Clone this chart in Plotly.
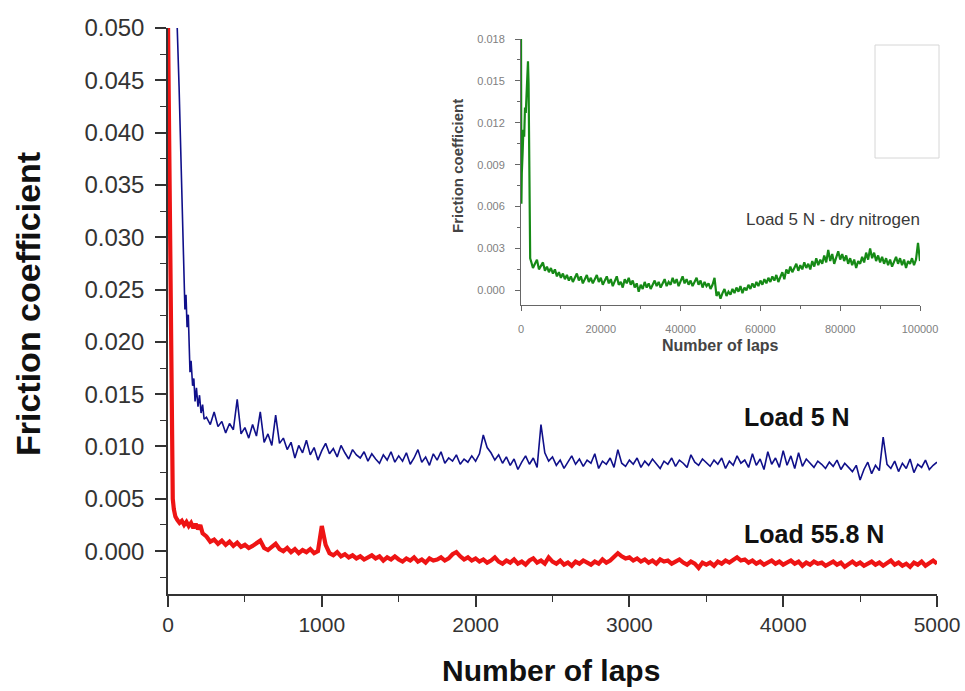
import plotly.graph_objects as go

W, H = 965, 691

# ---------------- Main chart data (Number of laps vs friction coefficient) ----------------
blue_early_laps = [50, 60, 72, 85, 98, 110, 117, 124, 132, 143, 150, 160, 168, 176, 185, 195, 205, 215, 225, 235]
blue_early_vals = [0.0515, 0.0500, 0.0444, 0.0366, 0.0281, 0.0231, 0.0245, 0.0214, 0.0226, 0.0171,
                   0.0182, 0.0158, 0.0165, 0.0143, 0.0156, 0.0138, 0.0149, 0.0132, 0.0140, 0.0126]

blue_vals = [
    0.0128, 0.0121, 0.0133, 0.0119, 0.0124, 0.0113, 0.0122, 0.0116, 0.0145, 0.0112,
    0.0118, 0.0108, 0.0121, 0.0110, 0.0133, 0.0104, 0.0112, 0.0101, 0.0130, 0.0103,
    0.0108, 0.0097, 0.0104, 0.0089, 0.0101, 0.0094, 0.0106, 0.0092, 0.0099, 0.0087,
    0.0096, 0.0103, 0.0093, 0.0098, 0.0090, 0.0101, 0.0094, 0.0088, 0.0097, 0.0092,
    0.0089, 0.0095, 0.0086, 0.0093, 0.0088, 0.0084, 0.0092, 0.0087, 0.0095, 0.0085,
    0.0091, 0.0086, 0.0094, 0.0083, 0.0089, 0.0097, 0.0085, 0.0090, 0.0082, 0.0093,
    0.0087, 0.0095, 0.0084, 0.0089, 0.0086, 0.0092, 0.0083, 0.0088, 0.0085, 0.0091,
    0.0086, 0.0093, 0.0111, 0.0099, 0.0094, 0.0087, 0.0092, 0.0084, 0.0090, 0.0082,
    0.0088, 0.0078, 0.0085, 0.0091, 0.0083, 0.0089, 0.0080, 0.0121, 0.0094, 0.0086,
    0.0090, 0.0082, 0.0087, 0.0079, 0.0085, 0.0091, 0.0083, 0.0088, 0.0081, 0.0087,
    0.0084, 0.0093, 0.0079, 0.0086, 0.0083, 0.0089, 0.0080, 0.0097, 0.0084, 0.0081,
    0.0087, 0.0083, 0.0089, 0.0080, 0.0086, 0.0082, 0.0088, 0.0084, 0.0079, 0.0086,
    0.0083, 0.0089, 0.0081, 0.0087, 0.0084, 0.0080, 0.0092, 0.0085, 0.0082, 0.0088,
    0.0084, 0.0081, 0.0087, 0.0083, 0.0089, 0.0079, 0.0086, 0.0082, 0.0091, 0.0084,
    0.0087, 0.0080, 0.0093, 0.0082, 0.0088, 0.0078, 0.0095, 0.0083, 0.0089, 0.0080,
    0.0096, 0.0082, 0.0091, 0.0079, 0.0094, 0.0081, 0.0088, 0.0084, 0.0080, 0.0086,
    0.0083, 0.0079, 0.0085, 0.0081, 0.0087, 0.0078, 0.0084, 0.0080, 0.0076, 0.0082,
    0.0068, 0.0078, 0.0085, 0.0074, 0.0082, 0.0077, 0.0109, 0.0083, 0.0079, 0.0086,
    0.0076, 0.0084, 0.0079, 0.0088, 0.0075, 0.0083, 0.0080, 0.0087, 0.0078, 0.0082,
    0.0085,
]

red_early_laps = [0, 5, 10, 13, 17, 20, 23, 26, 31, 38, 48, 60, 75, 90, 105, 120, 135, 150, 165, 180, 195, 210, 225]
red_early_vals = [0.0505, 0.0430, 0.0360, 0.0300, 0.0220, 0.0164, 0.0115, 0.0083, 0.0050, 0.0040, 0.0033,
                  0.0030, 0.0027, 0.0029, 0.0025, 0.0028, 0.0024, 0.0027, 0.0022, 0.0026, 0.0021, 0.0025, 0.0017]

red_vals = [
    0.0014, 0.0009, 0.0011, 0.0007, 0.0010, 0.0006, 0.0009, 0.0005, 0.0008, 0.0004,
    0.0006, 0.0003, 0.0005, 0.0008, 0.0010, 0.0003, 0.0001, 0.0004, 0.0007, 0.0002,
    0.0000, 0.0003, -0.0001, 0.0002, -0.0002, 0.0001, -0.0001, 0.0002, -0.0002, 0.0000,
    0.0024, 0.0006, -0.0002, -0.0004, -0.0001, -0.0005, -0.0003, -0.0006, -0.0004, -0.0007,
    -0.0005, -0.0008, -0.0006, -0.0004, -0.0007, -0.0005, -0.0009, -0.0006, -0.0008, -0.0005,
    -0.0008, -0.0010, -0.0007, -0.0009, -0.0006, -0.0010, -0.0008, -0.0011, -0.0007, -0.0009,
    -0.0008, -0.0006, -0.0009, -0.0007, -0.0003, -0.0001, -0.0005, -0.0008, -0.0006, -0.0009,
    -0.0007, -0.0010, -0.0008, -0.0011, -0.0009, -0.0006, -0.0010, -0.0012, -0.0009, -0.0011,
    -0.0008, -0.0012, -0.0010, -0.0013, -0.0009, -0.0007, -0.0011, -0.0009, -0.0012, -0.0006,
    -0.0010, -0.0012, -0.0009, -0.0013, -0.0011, -0.0014, -0.0010, -0.0012, -0.0009, -0.0011,
    -0.0013, -0.0010, -0.0012, -0.0008, -0.0011, -0.0009, -0.0006, -0.0002, -0.0005, -0.0007,
    -0.0006, -0.0009, -0.0007, -0.0010, -0.0008, -0.0011, -0.0009, -0.0012, -0.0008, -0.0010,
    -0.0009, -0.0012, -0.0010, -0.0008, -0.0011, -0.0013, -0.0010, -0.0012, -0.0016, -0.0011,
    -0.0013, -0.0011, -0.0014, -0.0010, -0.0012, -0.0009, -0.0011, -0.0008, -0.0006, -0.0009,
    -0.0008, -0.0011, -0.0009, -0.0012, -0.0010, -0.0013, -0.0011, -0.0009, -0.0012, -0.0010,
    -0.0013, -0.0011, -0.0009, -0.0012, -0.0010, -0.0014, -0.0011, -0.0013, -0.0010, -0.0012,
    -0.0011, -0.0014, -0.0012, -0.0010, -0.0013, -0.0011, -0.0015, -0.0012, -0.0010, -0.0013,
    -0.0011, -0.0014, -0.0012, -0.0010, -0.0013, -0.0011, -0.0014, -0.0012, -0.0009, -0.0013,
    -0.0011, -0.0014, -0.0012, -0.0015, -0.0011, -0.0013, -0.0010, -0.0014, -0.0012, -0.0009,
    -0.0012,
]

grid_laps = list(range(250, 5001, 25))

# ---------------- Inset data (dry nitrogen, 100000 laps) ----------------
green_early_laps = [0, 50, 100, 200, 400, 600, 800, 1000, 1200, 1400, 1500, 1600, 1750, 1900, 2000, 2100, 2200, 2300]
green_early_vals = [0.0185, 0.0120, 0.0062, 0.0084, 0.0098, 0.0115, 0.0110, 0.0131, 0.0127, 0.0146,
                    0.0141, 0.0152, 0.0164, 0.0148, 0.0120, 0.0056, 0.0030, 0.0023]

green_vals = [
    0.0021, 0.0016, 0.0019, 0.0022, 0.0015, 0.0018, 0.0020, 0.0014, 0.0017, 0.0013,
    0.0016, 0.0012, 0.0015, 0.0010, 0.0013, 0.0009, 0.0012, 0.0008, 0.0011, 0.0007,
    0.0010, 0.0006, 0.0009, 0.0012, 0.0007, 0.0010, 0.0005, 0.0008, 0.0011, 0.0006,
    0.0009, 0.0005, 0.0008, 0.0011, 0.0006, 0.0009, 0.0004, 0.0007, 0.0010, 0.0005,
    0.0008, 0.0003, 0.0007, 0.0010, 0.0004, 0.0006, 0.0002, 0.0008, 0.0005, 0.0009,
    0.0004, 0.0007, 0.0002, 0.0005, -0.0001, 0.0004, 0.0001, 0.0006, 0.0002, 0.0005,
    0.0001, 0.0004, 0.0007, 0.0003, 0.0006, 0.0002, 0.0005, 0.0008, 0.0003, 0.0006,
    0.0004, 0.0009, 0.0005, 0.0008, 0.0003, 0.0007, 0.0010, 0.0005, 0.0008, 0.0004,
    0.0007, 0.0003, 0.0006, 0.0009, 0.0004, 0.0007, 0.0002, 0.0006, 0.0003, 0.0005,
    0.0001, 0.0004, 0.0009, -0.0004, -0.0001, -0.0006, -0.0002, 0.0001, -0.0004, -0.0001,
    -0.0003, 0.0001, -0.0002, 0.0002, -0.0001, 0.0003, -0.0002, 0.0002, 0.0000, 0.0004,
    0.0001, 0.0005, 0.0002, 0.0006, 0.0003, 0.0007, 0.0004, 0.0008, 0.0005, 0.0009,
    0.0006, 0.0010, 0.0007, 0.0011, 0.0006, 0.0009, 0.0013, 0.0008, 0.0015, 0.0012,
    0.0017, 0.0013, 0.0016, 0.0019, 0.0014, 0.0018, 0.0015, 0.0020, 0.0016, 0.0019,
    0.0015, 0.0021, 0.0017, 0.0023, 0.0018, 0.0022, 0.0019, 0.0025, 0.0020, 0.0029,
    0.0021, 0.0026, 0.0019, 0.0024, 0.0028, 0.0022, 0.0026, 0.0021, 0.0025, 0.0019,
    0.0023, 0.0018, 0.0022, 0.0016, 0.0021, 0.0019, 0.0024, 0.0020, 0.0027, 0.0022,
    0.0030, 0.0023, 0.0027, 0.0021, 0.0025, 0.0020, 0.0024, 0.0019, 0.0023, 0.0018,
    0.0022, 0.0017, 0.0021, 0.0024, 0.0019, 0.0023, 0.0018, 0.0022, 0.0016, 0.0021,
    0.0019, 0.0023, 0.0018, 0.0022, 0.0034, 0.0021,
]
green_grid = list(range(2500, 100001, 500))

main_xticks = [0, 1000, 2000, 3000, 4000, 5000]
inset_xticks = [0, 20000, 40000, 60000, 80000, 100000]

# ---------------- Figure ----------------
fig = go.Figure()
fig.add_trace(go.Scatter(x=blue_early_laps + grid_laps, y=blue_early_vals + blue_vals,
                         mode="lines", line=dict(color="#10108a", width=1.6),
                         name="Load 5 N", xaxis="x", yaxis="y"))
fig.add_trace(go.Scatter(x=red_early_laps + grid_laps, y=red_early_vals + red_vals,
                         mode="lines", line=dict(color="#ee1414", width=4.2),
                         name="Load 55.8 N", xaxis="x", yaxis="y"))
fig.add_trace(go.Scatter(x=green_early_laps + green_grid, y=green_early_vals + green_vals,
                         mode="lines", line=dict(color="#168a16", width=2.2),
                         name="Load 5 N - dry nitrogen", xaxis="x2", yaxis="y2"))

px = lambda v: v / W
py = lambda v: (H - v) / H

FAM = "Liberation Sans, Arial, sans-serif"
xtick_font = dict(family=FAM, size=21, color="#333333")
ytick_font = dict(family=FAM, size=24, color="#333333")
inset_font = dict(family=FAM, size=11, color="#808080")

fig.update_layout(
    template="none",
    width=W, height=H,
    margin=dict(l=0, r=0, t=0, b=0, pad=0),
    paper_bgcolor="white", plot_bgcolor="white",
    showlegend=False,
    xaxis=dict(domain=[px(168), px(937)], range=[0, 5000], anchor="y", automargin=False,
               tickvals=main_xticks, showline=True, linecolor="#333333", linewidth=1.5,
               ticks="outside", ticklen=11, tickwidth=1.5, tickcolor="#333333",
               minor=dict(dtick=500, ticks="outside", ticklen=6, tickcolor="#333333", tickwidth=1.2),
               showgrid=False, zeroline=False, tickfont=xtick_font, ticklabelstandoff=0),
    yaxis=dict(domain=[py(594), py(28)], range=[-0.0041, 0.050], anchor="x", automargin=False,
               dtick=0.005, tick0=0, tickformat=".3f", showline=True, linecolor="#333333", linewidth=1.5,
               ticks="outside", ticklen=11, tickwidth=1.5, tickcolor="#333333",
               minor=dict(dtick=0.0025, ticks="outside", ticklen=6, tickcolor="#333333", tickwidth=1.2),
               showgrid=False, zeroline=False, tickfont=ytick_font, ticklabelstandoff=6),
    xaxis2=dict(domain=[px(521), px(920)], range=[0, 100000], anchor="y2", automargin=False,
                tickvals=inset_xticks, tickformat="d", showline=True, linecolor="#666666", linewidth=1,
                ticks="outside", ticklen=5, tickcolor="#666666",
                minor=dict(dtick=10000, ticks="outside", ticklen=3, tickcolor="#666666"),
                showgrid=False, zeroline=False, tickfont=inset_font, ticklabelstandoff=9),
    yaxis2=dict(domain=[py(305), py(39)], range=[-0.00105, 0.018], anchor="x2", automargin=False,
                dtick=0.003, tick0=0, tickformat=".3f", showline=True, linecolor="#666666", linewidth=1,
                ticks="outside", ticklen=5, tickcolor="#666666",
                minor=dict(dtick=0.0015, ticks="outside", ticklen=3, tickcolor="#666666"),
                showgrid=False, zeroline=False, tickfont=inset_font, ticklabelstandoff=8),
)

ann = []
ann.append(dict(text="<b>Friction coefficient</b>", x=px(28), y=py(304), xref="paper", yref="paper",
                textangle=-90, showarrow=False, xanchor="center", yanchor="middle",
                font=dict(family=FAM, size=34, color="#111111")))
ann.append(dict(text="<b>Number of laps</b>", x=px(551), y=py(670), xref="paper", yref="paper",
                showarrow=False, xanchor="center", yanchor="middle",
                font=dict(family=FAM, size=30, color="#111111")))
ann.append(dict(text="<b>Load 5 N</b>", x=px(742), y=py(417), xref="paper", yref="paper",
                showarrow=False, xanchor="left", yanchor="middle",
                font=dict(family=FAM, size=25, color="#111111")))
ann.append(dict(text="<b>Load 55.8 N</b>", x=px(742), y=py(534), xref="paper", yref="paper",
                showarrow=False, xanchor="left", yanchor="middle",
                font=dict(family=FAM, size=25, color="#111111")))
ann.append(dict(text="Load 5 N - dry nitrogen", x=px(922), y=py(219), xref="paper", yref="paper",
                showarrow=False, xanchor="right", yanchor="middle",
                font=dict(family=FAM, size=17, color="#3a3a3a")))
ann.append(dict(text="<b>Friction coefficient</b>", x=px(457), y=py(166), xref="paper", yref="paper",
                textangle=-90, showarrow=False, xanchor="center", yanchor="middle",
                font=dict(family=FAM, size=15, color="#444444")))
ann.append(dict(text="<b>Number of laps</b>", x=px(720), y=py(345), xref="paper", yref="paper",
                showarrow=False, xanchor="center", yanchor="middle",
                font=dict(family=FAM, size=16, color="#444444")))
fig.update_layout(annotations=ann)

fig.add_shape(type="rect", xref="paper", yref="paper",
              x0=px(875), x1=px(939), y0=py(158), y1=py(45),
              line=dict(color="#d6d6d6", width=1), fillcolor="rgba(0,0,0,0)")

fig.write_html("out.html")
